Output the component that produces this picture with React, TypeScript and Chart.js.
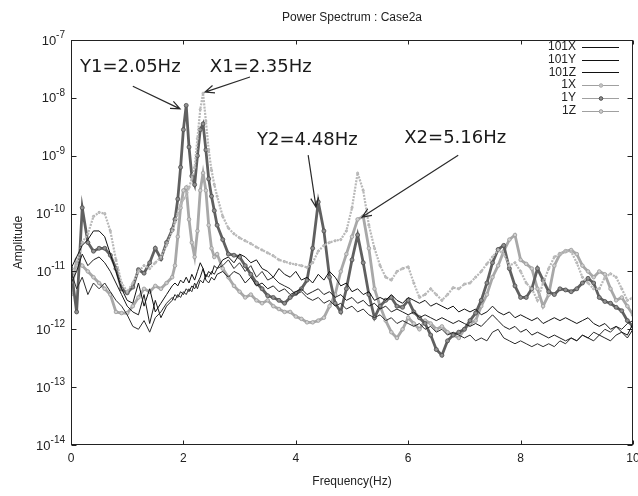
import { useEffect, useRef } from "react";
import { Chart, registerables } from "chart.js";
Chart.register(...registerables);

// Frequency grid (Hz) shared by all series
const freq = [
  0, 0.1, 0.2, 0.3, 0.4, 0.5, 0.6, 0.7, 0.8, 0.9, 1, 1.1, 1.2, 1.3, 1.4, 1.5, 1.6, 1.7, 1.8,
  1.85, 1.9, 1.95, 2, 2.05, 2.1, 2.15, 2.2, 2.25, 2.3, 2.35, 2.4, 2.45, 2.5, 2.55, 2.6,
  2.7, 2.8, 2.9, 3, 3.1, 3.2, 3.3, 3.4, 3.5, 3.6,
  3.7, 3.8, 3.9, 4, 4.1, 4.2, 4.3, 4.4, 4.5, 4.6,
  4.7, 4.8, 4.9, 5, 5.1, 5.2, 5.3, 5.4, 5.5, 5.6,
  5.7, 5.8, 5.9, 6, 6.1, 6.2, 6.3, 6.4, 6.5, 6.6,
  6.7, 6.8, 6.9, 7, 7.1, 7.2, 7.3, 7.4, 7.5, 7.6,
  7.7, 7.8, 7.9, 8, 8.1, 8.2, 8.3, 8.4, 8.5, 8.6,
  8.7, 8.8, 8.9, 9, 9.1, 9.2, 9.3, 9.4, 9.5, 9.6,
  9.7, 9.8, 9.9, 10,
];

// Amplitudes, given as log10(amplitude)
const log101X = [
  -10.95, -10.75, -10.55, -10.45, -10.3, -10.3, -10.4, -10.7, -11.0, -11.3, -11.5, -11.55, -11.2, -11.6, -11.3, -11.7, -11.55, -11.4, -11.25,
  -11.2, -11.25, -11.15, -11.2, -11.1, -11.2, -11.05, -11.15, -11.0, -10.85, -10.95, -11.1, -11.0, -11.05, -10.9, -10.95,
  -10.8, -10.75, -10.85, -10.7, -10.75, -10.85, -10.8, -10.95, -11.0, -11.1,
  -10.95, -11.05, -11.1, -11.0, -11.15, -11.1, -11.2, -11.05, -11.15, -11.0,
  -11.1, -11.25, -11.2, -11.35, -11.3, -11.4, -11.35, -11.5, -11.45, -11.5,
  -11.4, -11.5, -11.55, -11.45, -11.5, -11.55, -11.5, -11.6, -11.55, -11.6,
  -11.65, -11.6, -11.7, -11.65, -11.7, -11.65, -11.75, -11.7, -11.6, -11.7,
  -11.75, -11.7, -11.8, -11.75, -11.8, -11.85, -11.8, -11.9, -11.85, -11.8,
  -11.85, -11.8, -11.85, -11.9, -11.85, -11.8, -11.9, -11.95, -11.9, -12.0,
  -11.95, -12.05, -12.1, -11.9,
];
const log101Y = [
  -11.2, -11.0, -10.7, -10.9, -10.8, -10.75, -10.85, -11.0, -11.2, -11.4, -11.6, -11.7, -11.75, -11.4, -11.9, -11.5, -11.8, -11.6, -11.5,
  -11.4, -11.45, -11.35, -11.4, -11.3, -11.35, -11.25, -11.3, -11.2, -11.1, -10.95, -11.15, -11.2, -11.1, -11.15, -11.05,
  -11.0, -11.1, -11.0, -11.05, -11.2, -11.1, -11.25, -11.2, -11.3, -11.25,
  -11.35, -11.3, -11.4, -11.35, -11.3, -11.4, -11.35, -11.3, -11.4, -11.35,
  -11.45, -11.4, -11.5, -11.45, -11.55, -11.5, -11.6, -11.55, -11.65, -11.6,
  -11.7, -11.65, -11.7, -11.75, -11.7, -11.8, -11.75, -11.8, -11.85, -11.8,
  -11.85, -11.9, -11.85, -11.9, -11.95, -11.9, -11.95, -11.85, -11.75, -11.85,
  -11.95, -12.0, -11.95, -12.05, -12.0, -12.1, -12.05, -12.1, -12.15, -12.1,
  -12.15, -12.2, -12.15, -12.2, -12.1, -12.15, -12.2, -12.1, -12.15, -12.2,
  -12.1, -12.05, -12.15, -12.0,
];
const log101Z = [
  -11.0, -11.3, -11.1, -11.4, -11.2, -11.3, -11.2, -11.35, -11.5, -11.6, -11.75, -11.95, -12.0, -11.85, -12.05, -11.8, -11.7, -11.55, -11.45,
  -11.5, -11.4, -11.45, -11.35, -11.4, -11.3, -11.35, -11.2, -11.3, -11.15, -11.2, -11.05, -11.1, -11.0, -11.05, -10.95,
  -10.9, -10.8, -10.95, -10.85, -11.0, -10.9, -11.1, -11.0, -11.15, -11.1,
  -11.2, -11.25, -11.3, -11.4, -11.35, -11.45, -11.5, -11.45, -11.55, -11.5,
  -11.6, -11.55, -11.65, -11.6, -11.7, -11.65, -11.75, -11.8, -11.75, -11.85,
  -11.8, -11.9, -11.85, -11.9, -11.95, -11.9, -12.0, -11.95, -12.05, -12.0,
  -12.1, -12.05, -12.1, -12.15, -12.1, -12.2, -12.15, -12.2, -12.05, -12.0,
  -12.15, -12.2, -12.25, -12.2, -12.25, -12.3, -12.25, -12.3, -12.25, -12.3,
  -12.2, -12.25, -12.15, -12.2, -12.1, -12.15, -12.05, -12.1, -12.0, -12.05,
  -11.95, -12.0, -11.9, -11.85,
];
const log1X = [
  -11.2, -10.9, -10.5, -10.35, -10.05, -9.98, -10.0, -10.3, -10.8, -11.2, -11.35, -11.2, -11.0, -10.9, -10.95, -10.85, -10.75, -10.55, -10.3,
  -10.15, -10.0, -9.85, -9.75, -9.7, -9.55, -9.4, -9.2, -8.7, -8.2, -7.92, -8.4, -8.9, -9.25, -9.5, -9.7,
  -10.05, -10.25, -10.35, -10.42, -10.47, -10.52, -10.58, -10.63, -10.68, -10.73,
  -10.8, -10.83, -10.86, -10.88, -10.9, -10.93, -10.85, -10.65, -10.55, -10.5,
  -10.47, -10.45, -10.3, -9.9, -9.3, -9.6, -10.2, -10.6, -10.9, -11.1,
  -11.15, -11.0, -10.95, -10.92, -11.2, -11.45, -11.4, -11.3, -11.4, -11.5,
  -11.4, -11.28, -11.3, -11.22, -11.2, -11.1, -11.0, -10.87, -10.75, -10.63,
  -10.7, -10.9, -10.85, -11.0, -11.2, -11.3, -11.5, -11.2, -10.95, -10.75,
  -10.7, -10.65, -10.66, -10.85, -11.1, -11.2, -11.3, -11.3, -11.1, -11.04,
  -11.1, -11.3, -11.5, -11.45,
];
const log1Y = [
  -10.95, -11.7, -9.9, -10.5, -10.65, -10.6, -10.6, -10.72, -10.95, -11.3, -11.37, -11.27, -10.97, -11.03, -10.85, -10.6, -10.78, -10.5, -10.28,
  -10.1, -9.75, -9.2, -8.55, -8.13, -8.85, -9.35, -9.5, -9.0, -8.55, -8.45, -8.9, -9.4, -9.7, -9.95, -10.2,
  -10.45, -10.7, -10.72, -10.75, -10.9, -11.05, -11.2, -11.3, -11.42, -11.45,
  -11.5, -11.55, -11.45, -11.38, -11.3, -11.15, -10.6, -9.8, -10.3, -11.1,
  -11.55, -11.7, -11.3, -10.8, -10.37, -10.85, -11.4, -11.8, -11.6, -11.5,
  -11.45, -11.6, -11.62, -11.5, -11.7, -11.8, -11.9, -12.1, -12.35, -12.45,
  -12.2, -12.1, -12.05, -12.0, -11.85, -11.72, -11.5, -11.2, -10.85, -10.62,
  -10.55, -10.95, -11.25, -11.45, -11.45, -11.3, -10.95, -11.15, -11.35, -11.4,
  -11.3, -11.32, -11.35, -11.3, -11.2, -11.12, -11.2, -11.45, -11.52, -11.55,
  -11.62, -11.68, -11.85, -11.95,
];
const log1Z = [
  -11.4, -10.8, -10.9, -11.0, -11.1, -11.2, -11.3, -11.4, -11.7, -11.72, -11.72, -11.6, -11.45, -11.3, -11.35, -11.25, -11.3, -11.2, -11.1,
  -10.9, -10.4, -9.9, -9.6, -9.55, -10.1, -10.5, -10.75, -10.3, -9.6, -9.3, -9.6, -10.2, -10.6, -10.75, -10.7,
  -10.95, -11.1, -11.25, -11.35, -11.45, -11.4, -11.5, -11.55, -11.5, -11.6,
  -11.65, -11.7, -11.7, -11.78, -11.82, -11.88, -11.88, -11.85, -11.8, -11.6,
  -11.4, -11.0, -10.7, -10.4, -10.1, -10.05, -10.6, -11.3, -11.6, -11.85,
  -12.05, -12.15, -12.0, -11.8, -11.9, -12.0, -11.85, -11.9, -12.0, -11.95,
  -12.05, -12.1, -12.15, -12.0, -11.9, -11.85, -11.6, -11.4, -11.1, -10.9,
  -10.65, -10.45, -10.37, -10.8, -10.87, -10.95, -11.3, -11.6, -11.4, -10.9,
  -10.7, -10.65, -10.63, -10.7, -10.9, -11.0, -11.1, -11.0, -11.05, -11.3,
  -11.5, -11.45, -11.6, -11.75,
];

const seriesNames = ["101X", "101Y", "101Z", "1X", "1Y", "1Z"];
const seriesLogs = [log101X, log101Y, log101Z, log1X, log1Y, log1Z];

const xTickValues = [0, 2, 4, 6, 8, 10];
const yTickExponents = [-7, -8, -9, -10, -11, -12, -13, -14];

const titleText = "Power Spectrum : Case2a";
const xTitle = "Frequency(Hz)";
const yTitle = "Amplitude";

// Peak annotations: text anchor, arrow tail and arrow tip in (Hz, log10 amplitude)
const annotations = [
  { text: "Y1=2.05Hz", at: [0.16, -7.553], tail: [1.1, -7.8], tip: [1.94, -8.19] },
  { text: "X1=2.35Hz", at: [2.47, -7.553], tail: [3.185, -7.64], tip: [2.385, -7.9] },
  { text: "Y2=4.48Hz", at: [3.31, -8.815], tail: [4.22, -8.99], tip: [4.36, -9.89] },
  { text: "X2=5.16Hz", at: [5.93, -8.78], tail: [6.89, -8.99], tip: [5.18, -10.06] },
];

type Style = {
  color: string;
  width: number;
  dash: number[];
  point: number;
  pointFill: string;
  pointEdge: string;
  marker: boolean;
};
const styles: Style[] = [
  { color: "#111111", width: 1, dash: [], point: 0, pointFill: "#000", pointEdge: "#000", marker: false },
  { color: "#1e1e1e", width: 1, dash: [], point: 0, pointFill: "#000", pointEdge: "#000", marker: false },
  { color: "#2c2c2c", width: 1, dash: [], point: 0, pointFill: "#000", pointEdge: "#000", marker: false },
  { color: "#b8b8b8", width: 2.2, dash: [2, 1.2], point: 1.1, pointFill: "#c4c4c4", pointEdge: "#b0b0b0", marker: true },
  { color: "#606060", width: 2.8, dash: [], point: 2, pointFill: "#909090", pointEdge: "#4c4c4c", marker: true },
  { color: "#a8a8a8", width: 2.8, dash: [], point: 1.8, pointFill: "#d0d0d0", pointEdge: "#9a9a9a", marker: true },
];

const SANS = '"Liberation Sans", Arial, sans-serif';

const decor = {
  id: "decor",
  afterDatasetsDraw(chart: any) {
    const { ctx, chartArea: a, scales } = chart;
    const xs = scales.x;
    const ys = scales.y;
    ctx.save();

    // annotations
    ctx.font = '18px "DejaVu Sans", sans-serif';
    ctx.fillStyle = "#1a1a1a";
    ctx.textAlign = "left";
    ctx.textBaseline = "alphabetic";
    ctx.strokeStyle = "#2a2a2a";
    ctx.lineWidth = 1.2;
    for (const an of annotations) {
      const tx = xs.getPixelForValue(an.at[0]);
      const ty = ys.getPixelForValue(Math.pow(10, an.at[1]));
      ctx.fillText(an.text, tx, ty);
      const x0 = xs.getPixelForValue(an.tail[0]);
      const y0 = ys.getPixelForValue(Math.pow(10, an.tail[1]));
      const x1 = xs.getPixelForValue(an.tip[0]);
      const y1 = ys.getPixelForValue(Math.pow(10, an.tip[1]));
      ctx.beginPath();
      ctx.moveTo(x0, y0);
      ctx.lineTo(x1, y1);
      const ang = Math.atan2(y1 - y0, x1 - x0);
      const L = 10;
      const spread = 0.4;
      ctx.moveTo(x1 - L * Math.cos(ang - spread), y1 - L * Math.sin(ang - spread));
      ctx.lineTo(x1, y1);
      ctx.lineTo(x1 - L * Math.cos(ang + spread), y1 - L * Math.sin(ang + spread));
      ctx.stroke();
    }

    // frame
    const L0 = Math.round(a.left) + 0.5;
    const T0 = Math.round(a.top) + 0.5;
    const R0 = Math.round(a.right) - 0.5;
    const B0 = Math.round(a.bottom) - 0.5;
    ctx.strokeStyle = "#222";
    ctx.lineWidth = 1;
    ctx.strokeRect(L0, T0, R0 - L0, B0 - T0);

    // x ticks
    ctx.beginPath();
    for (const v of xTickValues) {
      const px = Math.round(xs.getPixelForValue(v)) + 0.5;
      ctx.moveTo(px, B0);
      ctx.lineTo(px, B0 - 4);
      ctx.moveTo(px, T0);
      ctx.lineTo(px, T0 + 4);
    }
    // y ticks (major at decades, minor 2..9)
    for (const e of yTickExponents) {
      const py = Math.round(ys.getPixelForValue(Math.pow(10, e))) + 0.5;
      ctx.moveTo(L0, py);
      ctx.lineTo(L0 + 5, py);
      ctx.moveTo(R0, py);
      ctx.lineTo(R0 - 5, py);
      if (e > -7) {
        for (let m = 2; m <= 9; m++) {
          const pm = Math.round(ys.getPixelForValue(m * Math.pow(10, e))) + 0.5;
          ctx.moveTo(L0, pm);
          ctx.lineTo(L0 + 2, pm);
          ctx.moveTo(R0, pm);
          ctx.lineTo(R0 - 2, pm);
        }
      }
    }
    ctx.stroke();

    // y tick labels 10^n
    ctx.fillStyle = "#222";
    for (const e of yTickExponents) {
      const py = ys.getPixelForValue(Math.pow(10, e));
      const base = "10";
      const sup = String(e);
      ctx.font = "13px " + SANS;
      const wb = ctx.measureText(base).width;
      ctx.font = "10px " + SANS;
      const ws = ctx.measureText(sup).width;
      const right = a.left - 6;
      const start = right - wb - ws;
      ctx.font = "13px " + SANS;
      ctx.textAlign = "left";
      ctx.textBaseline = "middle";
      ctx.fillText(base, start, py + 1);
      ctx.font = "10px " + SANS;
      ctx.textBaseline = "alphabetic";
      ctx.fillText(sup, start + wb, py - 2);
    }

    // x tick labels
    ctx.font = "12px " + SANS;
    ctx.textAlign = "center";
    ctx.textBaseline = "middle";
    for (const v of xTickValues) {
      ctx.fillText(String(v), xs.getPixelForValue(v), a.bottom + 14);
    }

    // titles
    const cx = (a.left + a.right) / 2;
    ctx.font = "12px " + SANS;
    ctx.fillText(titleText, cx, 18);
    ctx.fillText(xTitle, cx, a.bottom + 37);
    ctx.save();
    ctx.translate(19, (a.top + a.bottom) / 2);
    ctx.rotate(-Math.PI / 2);
    ctx.fillText(yTitle, 0, 0);
    ctx.restore();

    // legend
    ctx.font = "12px " + SANS;
    ctx.textAlign = "right";
    ctx.textBaseline = "middle";
    seriesNames.forEach((name, i) => {
      const st = styles[i];
      const y = a.top + 7 + i * 12.7;
      ctx.fillStyle = "#222";
      ctx.fillText(name, a.right - 57, y);
      ctx.beginPath();
      ctx.strokeStyle = st.marker ? "#a0a0a0" : "#111";
      ctx.lineWidth = 1;
      ctx.moveTo(a.right - 51, Math.round(y) + 0.5);
      ctx.lineTo(a.right - 14, Math.round(y) + 0.5);
      ctx.stroke();
      if (st.marker) {
        ctx.beginPath();
        ctx.fillStyle = st.pointFill;
        ctx.strokeStyle = st.pointEdge;
        ctx.arc(a.right - 32, Math.round(y) + 0.5, 1.8, 0, Math.PI * 2);
        ctx.fill();
        ctx.stroke();
      }
    });

    ctx.restore();
  },
};

export default function App() {
  const ref = useRef<HTMLCanvasElement | null>(null);
  useEffect(() => {
    document.body.style.margin = "0";
    const canvas = ref.current;
    if (!canvas) return;
    const datasets = seriesLogs.map((logs, i) => {
      const st = styles[i];
      const n = Math.min(logs.length, freq.length);
      const pts = [] as { x: number; y: number }[];
      for (let k = 0; k < n; k++) pts.push({ x: freq[k], y: Math.pow(10, logs[k]) });
      return {
        label: seriesNames[i],
        data: pts,
        borderColor: st.color,
        backgroundColor: st.color,
        borderWidth: st.width,
        borderDash: st.dash,
        pointRadius: st.point,
        pointBorderWidth: 0.8,
        pointBackgroundColor: st.pointFill,
        pointBorderColor: st.pointEdge,
        tension: 0,
        fill: false,
        order: i >= 3 ? 1 : 0,
      };
    });
    const chart = new Chart(canvas, {
      type: "line",
      data: { datasets },
      options: {
        animation: false,
        responsive: false,
        devicePixelRatio: 1,
        layout: { padding: { top: 40, right: 5, left: 0, bottom: 0 } },
        plugins: { legend: { display: false }, tooltip: { enabled: false }, title: { display: false } },
        scales: {
          x: {
            type: "linear",
            min: 0,
            max: 10,
            grid: { display: false },
            border: { display: false },
            ticks: { display: false },
            afterFit: (s: any) => {
              s.height = 51;
            },
          },
          y: {
            type: "logarithmic",
            min: 1e-14,
            max: 1e-7,
            grid: { display: false },
            border: { display: false },
            ticks: { display: false },
            afterFit: (s: any) => {
              s.width = 71;
            },
          },
        },
      },
      plugins: [decor],
    } as any);
    return () => chart.destroy();
  }, []);
  return (
    <canvas
      ref={ref}
      width={638}
      height={496}
      style={{ display: "block", width: 638, height: 496, background: "#fff" }}
    />
  );
}
